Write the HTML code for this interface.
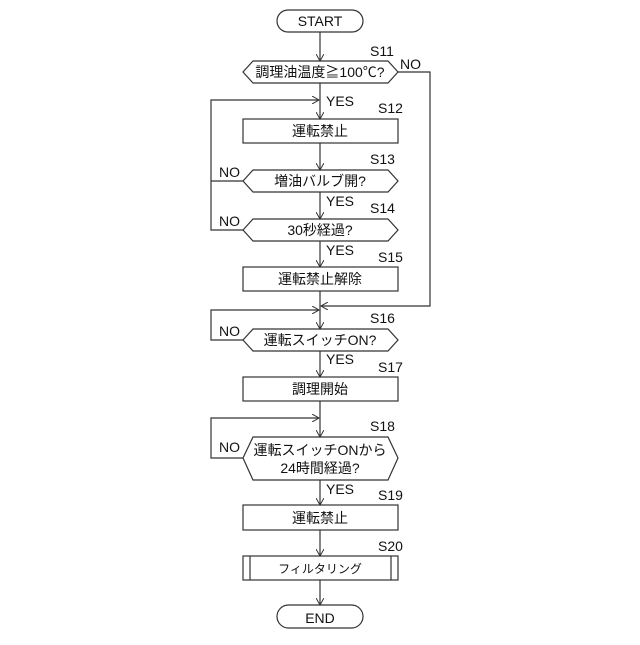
<!DOCTYPE html>
<html><head><meta charset="utf-8"><style>
body{margin:0;background:#fff}
text{font-family:"Liberation Sans","Noto Sans CJK JP",sans-serif;font-size:14px;fill:#111}
</style></head><body>
<svg width="640" height="640" viewBox="0 0 640 640">
<defs><marker id="a" markerWidth="8" markerHeight="8" refX="7" refY="4" orient="auto" markerUnits="userSpaceOnUse"><path d="M0,0 L7,4 L0,8" fill="none" stroke="#333" stroke-width="1"/></marker></defs>
<g fill="none" stroke="#333" stroke-width="1.2">
<rect x="277" y="10" width="86" height="22" rx="11"/>
<rect x="277" y="605" width="86" height="23" rx="11.5"/>
<polygon points="243,72 253,61 388,61 398,72 388,83 253,83"/>
<rect x="243" y="119" width="155" height="24"/>
<polygon points="243,181 253,170 388,170 398,181 388,192 253,192"/>
<polygon points="243,230 253,219 388,219 398,230 388,241 253,241"/>
<rect x="243" y="267" width="155" height="24"/>
<polygon points="243,340 253,329 388,329 398,340 388,351 253,351"/>
<rect x="243" y="377" width="155" height="24"/>
<polygon points="243,458 253,437 388,437 398,458 388,480 253,480"/>
<rect x="243" y="505" width="155" height="25"/>
<rect x="243" y="556" width="155" height="24"/>
<line x1="250" y1="556" x2="250" y2="580"/><line x1="391" y1="556" x2="391" y2="580"/>
<line x1="320" y1="32" x2="320" y2="61" marker-end="url(#a)"/>
<line x1="320" y1="83" x2="320" y2="119" marker-end="url(#a)"/>
<line x1="320" y1="143" x2="320" y2="170" marker-end="url(#a)"/>
<line x1="320" y1="192" x2="320" y2="219" marker-end="url(#a)"/>
<line x1="320" y1="241" x2="320" y2="267" marker-end="url(#a)"/>
<line x1="320" y1="291" x2="320" y2="329" marker-end="url(#a)"/>
<line x1="320" y1="351" x2="320" y2="377" marker-end="url(#a)"/>
<line x1="320" y1="401" x2="320" y2="437" marker-end="url(#a)"/>
<line x1="320" y1="480" x2="320" y2="505" marker-end="url(#a)"/>
<line x1="320" y1="530" x2="320" y2="556" marker-end="url(#a)"/>
<line x1="320" y1="580" x2="320" y2="605" marker-end="url(#a)"/>
<polyline points="398,72 430,72 430,306 321,306" marker-end="url(#a)"/>
<polyline points="243,181 211,181"/>
<polyline points="243,230 211,230 211,100 319,100" marker-end="url(#a)"/>
<polyline points="243,340 211,340 211,310 319,310" marker-end="url(#a)"/>
<polyline points="243,458 211,458 211,418 319,418" marker-end="url(#a)"/>
</g>
<g text-anchor="middle">
<text x="320" y="26">START</text>
<text x="320" y="623">END</text>
<text x="320" y="77">調理油温度≧100℃?</text>
<text x="320" y="136">運転禁止</text>
<text x="320" y="186">増油バルブ開?</text>
<text x="320" y="235">30秒経過?</text>
<text x="320" y="284">運転禁止解除</text>
<text x="320" y="345">運転スイッチON?</text>
<text x="320" y="394">調理開始</text>
<text x="320" y="455">運転スイッチONから</text>
<text x="320" y="473">24時間経過?</text>
<text x="320" y="523">運転禁止</text>
<text x="320" y="573" style="font-size:12px">フィルタリング</text>
</g>
<g>
<text x="370" y="56">S11</text><text x="378" y="113">S12</text><text x="370" y="164">S13</text>
<text x="370" y="213">S14</text><text x="378" y="262">S15</text><text x="370" y="323">S16</text>
<text x="378" y="372">S17</text><text x="370" y="431">S18</text><text x="378" y="500">S19</text><text x="378" y="551">S20</text>
<text x="400" y="69">NO</text><text x="219" y="177">NO</text><text x="219" y="226">NO</text>
<text x="219" y="336">NO</text><text x="219" y="452">NO</text>
<text x="326" y="106">YES</text><text x="326" y="206">YES</text><text x="326" y="255">YES</text>
<text x="326" y="364">YES</text><text x="326" y="494">YES</text>
</g>
</svg>
</body></html>
